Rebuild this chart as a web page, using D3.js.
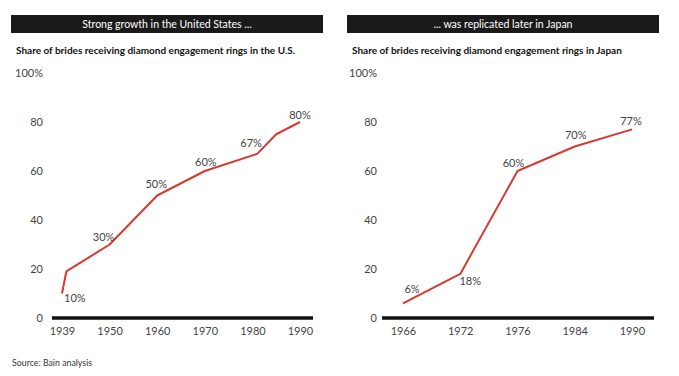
<!DOCTYPE html>
<html>
<head>
<meta charset="utf-8">
<script src="https://cdn.jsdelivr.net/npm/d3@7"></script>
<style>
  body { margin: 0; background: #fff; }
  text { font-family: Lato, "Open Sans", sans-serif; }
</style>
</head>
<body>
<div id="chart-area"></div>
<script>

// data
var usYears = [1939, 1940, 1950, 1960, 1970, 1981, 1985, 1990];
var usShare = [10, 19, 30, 50, 60, 67, 75, 80];
var usLabels = ["10%", "", "30%", "50%", "60%", "67%", "", "80%"];
var usTicks = [1939, 1950, 1960, 1970, 1980, 1990];

var jpYears = ["1966", "1972", "1976", "1984", "1990"];
var jpShare = [6, 18, 60, 70, 77];
var jpLabels = ["6%", "18%", "60%", "70%", "77%"];

var yTicks = [0, 20, 40, 60, 80, 100];

var width = 679, height = 376;

var svg = d3.select("#chart-area").append("svg")
    .attr("width", width)
    .attr("height", height);

// shared y scale
var y = d3.scaleLinear()
    .domain([0, 100])
    .range([318, 73]);

// US: decades evenly spaced, piecewise linear in between
var xUS = d3.scaleLinear()
    .domain(usTicks)
    .range(usTicks.map(function(d, i) { return 62 + i * 47.6; }));

var xJP = d3.scalePoint()
    .domain(jpYears)
    .range([403, 632]);

var panels = [
  {
    header: "Strong growth in the United States ...",
    title: "Share of brides receiving diamond engagement rings in the U.S.",
    bar: [11, 323], base: [52, 313], yLab: 43,
    x: xUS, years: usYears, vals: usShare, labels: usLabels, ticks: usTicks,
    // label offsets [dx, dy, anchor]
    off: [[2, 5, "start"], null, [-6, -7, "middle"], [-1, -11, "middle"], [1, -9, "middle"],
          [-6, -11, "middle"], null, [0, -7, "middle"]]
  },
  {
    header: "... was replicated later in Japan",
    title: "Share of brides receiving diamond engagement rings in Japan",
    bar: [347, 659], base: [382, 654], yLab: 377,
    x: xJP, years: jpYears, vals: jpShare, labels: jpLabels, ticks: jpYears,
    off: [[9, -14, "middle"], [10, 7, "middle"], [-4, -8, "middle"], [1, -11, "middle"], [-1, -8, "middle"]]
  }
];

panels.forEach(function(p) {
  var g = svg.append("g");

  // header bar
  g.append("rect")
      .attr("x", p.bar[0])
      .attr("y", 15)
      .attr("width", p.bar[1] - p.bar[0])
      .attr("height", 18)
      .attr("fill", "#1a1a1a");

  g.append("text")
      .attr("x", (p.bar[0] + p.bar[1]) / 2)
      .attr("y", 27.5)
      .attr("text-anchor", "middle")
      .attr("fill", "#fff")
      .attr("font-size", 10.5)
      .text(p.header);

  g.append("text")
      .attr("x", p.bar[0] + 5)
      .attr("y", 53.5)
      .attr("fill", "#111")
      .attr("font-size", 10)
      .attr("font-weight", "bold")
      .text(p.title);

  // y tick labels
  g.selectAll(".ylab")
      .data(yTicks)
    .enter().append("text")
      .attr("class", "ylab")
      .attr("x", p.yLab)
      .attr("y", function(d) { return y(d); })
      .attr("dy", "0.35em")
      .attr("text-anchor", "end")
      .attr("fill", "#444")
      .attr("font-size", 11)
      .text(function(d) { return d === 100 ? "100%" : d; });

  // x axis
  var xAxis = d3.axisBottom(p.x)
      .tickValues(p.ticks)
      .tickSize(0)
      .tickPadding(9)
      .tickFormat(function(d) { return d; });

  var ax = g.append("g")
      .attr("transform", "translate(0," + y(0) + ")")
      .call(xAxis);
  ax.select(".domain").remove();
  ax.selectAll("text")
      .attr("fill", "#444")
      .attr("font-size", 11)
      .attr("font-family", "Lato, 'Open Sans', sans-serif");

  g.append("line")
      .attr("x1", p.base[0])
      .attr("x2", p.base[1])
      .attr("y1", y(0))
      .attr("y2", y(0))
      .attr("stroke", "#111")
      .attr("stroke-width", 3.5);

  // line
  var pts = p.years.map(function(d, i) { return [p.x(d), y(p.vals[i])]; });

  g.append("path")
      .datum(pts)
      .attr("fill", "none")
      .attr("stroke", "#d63a30")
      .attr("stroke-width", 2)
      .attr("stroke-linejoin", "round")
      .attr("d", d3.line());

  // value labels
  pts.forEach(function(pt, i) {
    if (!p.labels[i] || !p.off[i]) return;
    g.append("text")
        .attr("x", pt[0] + p.off[i][0])
        .attr("y", pt[1] + p.off[i][1])
        .attr("dy", "0.35em")
        .attr("text-anchor", p.off[i][2])
        .attr("fill", "#444")
        .attr("font-size", 11)
        .text(p.labels[i]);
  });
});

svg.append("text")
    .attr("x", 12)
    .attr("y", 366)
    .attr("fill", "#333")
    .attr("font-size", 8.8)
    .text("Source: Bain analysis");

</script>
</body>
</html>
